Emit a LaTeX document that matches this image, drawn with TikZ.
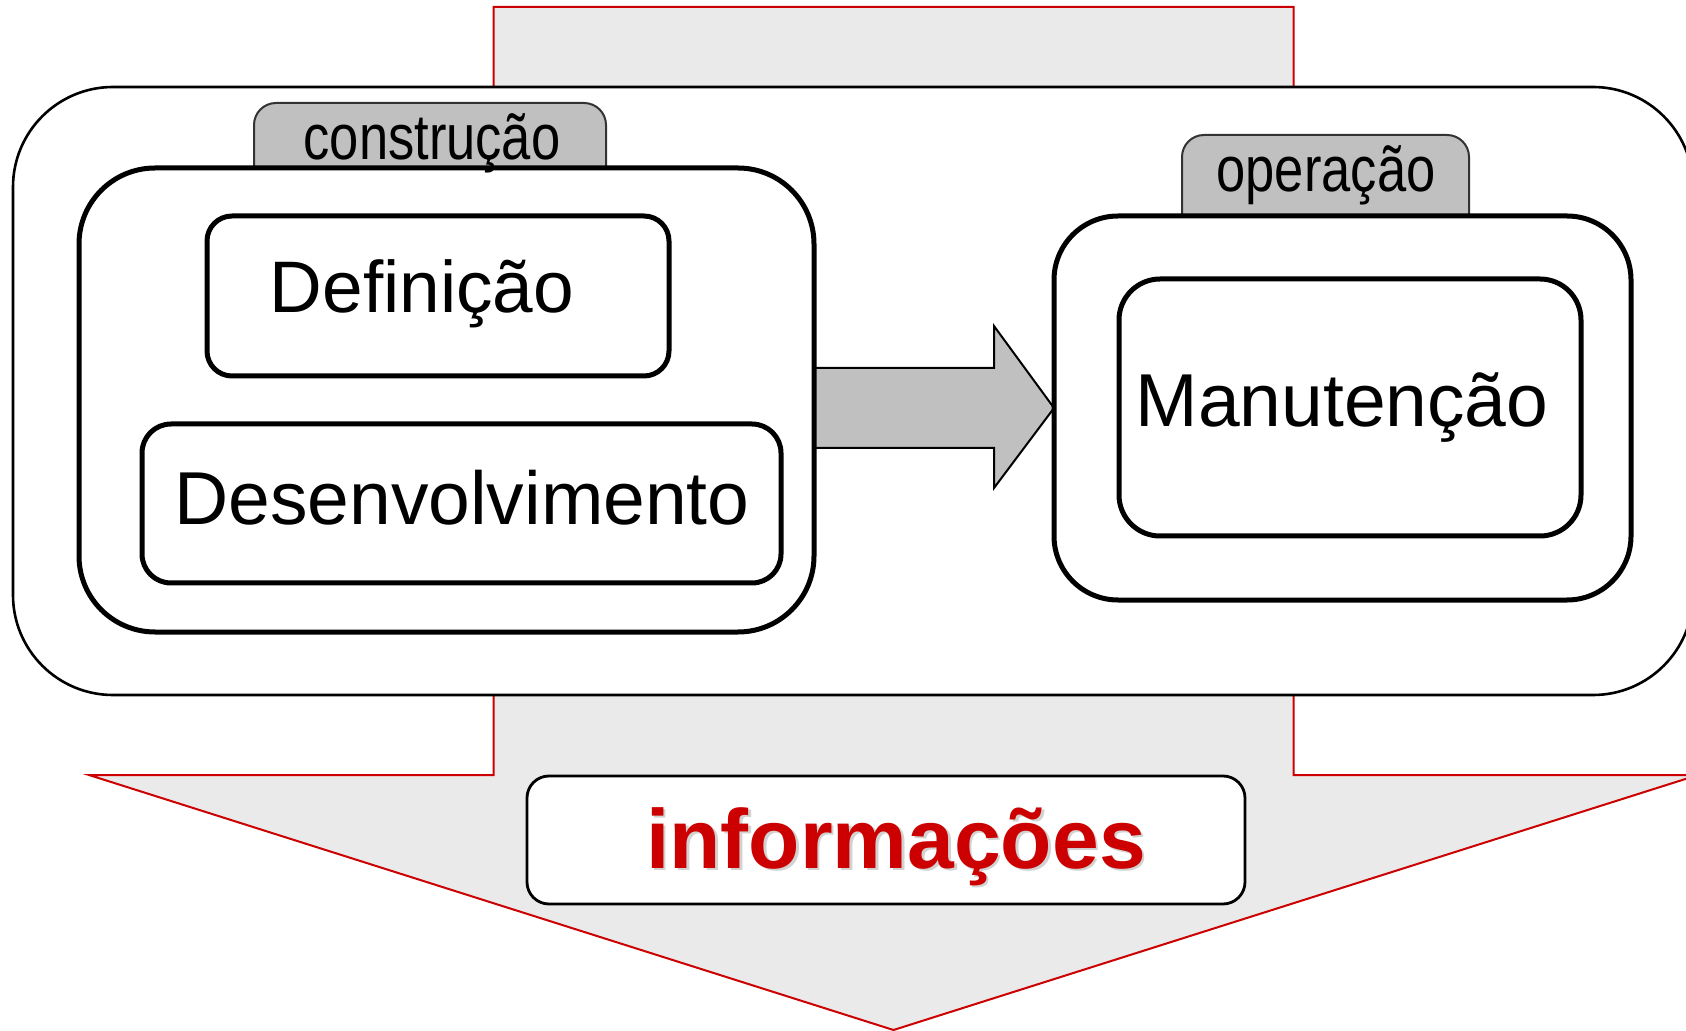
\documentclass[tikz,border=0pt]{standalone}
\usepackage{fontspec}
\setmainfont{Liberation Sans}
\newfontfamily\narrowfont{Liberation Sans}[FakeStretch=0.82]
\definecolor{infored}{HTML}{CC0000}
\definecolor{lightfill}{HTML}{EAEAEA}
\definecolor{tabgray}{HTML}{C0C0C0}
\begin{document}
\begin{tikzpicture}[x=0.5pt,y=-0.5pt,
  box/.style={draw=black,fill=white,rectangle,inner sep=0pt,outer sep=0pt},
  bigbox/.style={box,line width=2.5pt},
  tabbox/.style={draw=black!80,fill=tabgray,line width=1pt,rectangle,inner sep=0pt,outer sep=0pt,rounded corners=11pt},
  bigtext/.style={font=\fontsize{36.5}{40}\selectfont,inner sep=0pt,anchor=base},
  tabtext/.style={font=\narrowfont\fontsize{32}{36}\selectfont,inner sep=0pt,anchor=base},
  redarrow/.style={draw=infored,fill=lightfill,line width=1pt,line join=miter},
  grayarrow/.style={draw=black,fill=tabgray,line width=1pt,line join=miter}]
\useasboundingbox (0,0) rectangle (1686,1031);
% big down arrow (information flow)
\draw[redarrow] (493.5,7) -- (1293.5,7) -- (1293.5,775) -- (1698,775) -- (893.5,1030) -- (89,775) -- (493.5,775) -- cycle;
% outer container
\node[box,line width=1.3pt,rounded corners=50pt,minimum width=840pt,minimum height=304pt] (outer) at (853,391) {};
% tabs
\node[tabbox,minimum width=176pt,minimum height=50pt] (tabc) at (430,153) {};
\node[tabbox,minimum width=143.5pt,minimum height=50pt] (tabo) at (1325.5,185) {};
% gray arrow between phases
\node[box,draw=none,fill=none,minimum width=288.5pt,minimum height=192pt] (opb) at (1342.5,408) {};
\coordinate (tip) at (opb.west);
\draw[grayarrow] (tip) -- ++(-60,-82) -- ++(0,42) -- ++(-193,0) -- ++(0,80) -- ++(193,0) -- ++(0,40) -- cycle;
% construction box
\node[bigbox,rounded corners=38pt,minimum width=367.5pt,minimum height=232pt] (cons) at (446.5,400) {};
\node[tabtext] (tabctext) at (432,160) {construção};
% operation box
\node[bigbox,rounded corners=32pt,minimum width=288.5pt,minimum height=192pt] (op) at (1342.5,408) {};
\node[tabtext] (tabotext) at (1326,192) {operação};
% inner boxes
\node[bigbox,rounded corners=12.5pt,minimum width=231pt,minimum height=80pt] (def) at (438,296) {};
\node[bigtext] (deftext) at (422,313) {Definição};
\node[bigbox,rounded corners=14.5pt,minimum width=319.5pt,minimum height=79.5pt] (des) at (461.5,503.5) {};
\node[bigtext,font=\fontsize{37.5}{41}\selectfont] (destext) at (462,525) {Desenvolvimento};
\node[bigbox,rounded corners=20.5pt,minimum width=231pt,minimum height=128.5pt] (man) at (1350,407.5) {};
\node[bigtext,font=\fontsize{37.5}{41}\selectfont] (mantext) at (1342,427) {Manutenção};
% information box
\node[box,line width=1.4pt,rounded corners=11pt,minimum width=359pt,minimum height=64pt] (info) at (886,840) {};
\node[font=\bfseries\fontsize{42}{46}\selectfont,inner sep=0pt,anchor=base,text=black!35,opacity=0.5] (infoshadow) at (898.5,870.5) {informações};
\node[font=\bfseries\fontsize{42}{46}\selectfont,inner sep=0pt,anchor=base,text=infored] (infotext) at (896,868) {informações};
\end{tikzpicture}
\end{document}
